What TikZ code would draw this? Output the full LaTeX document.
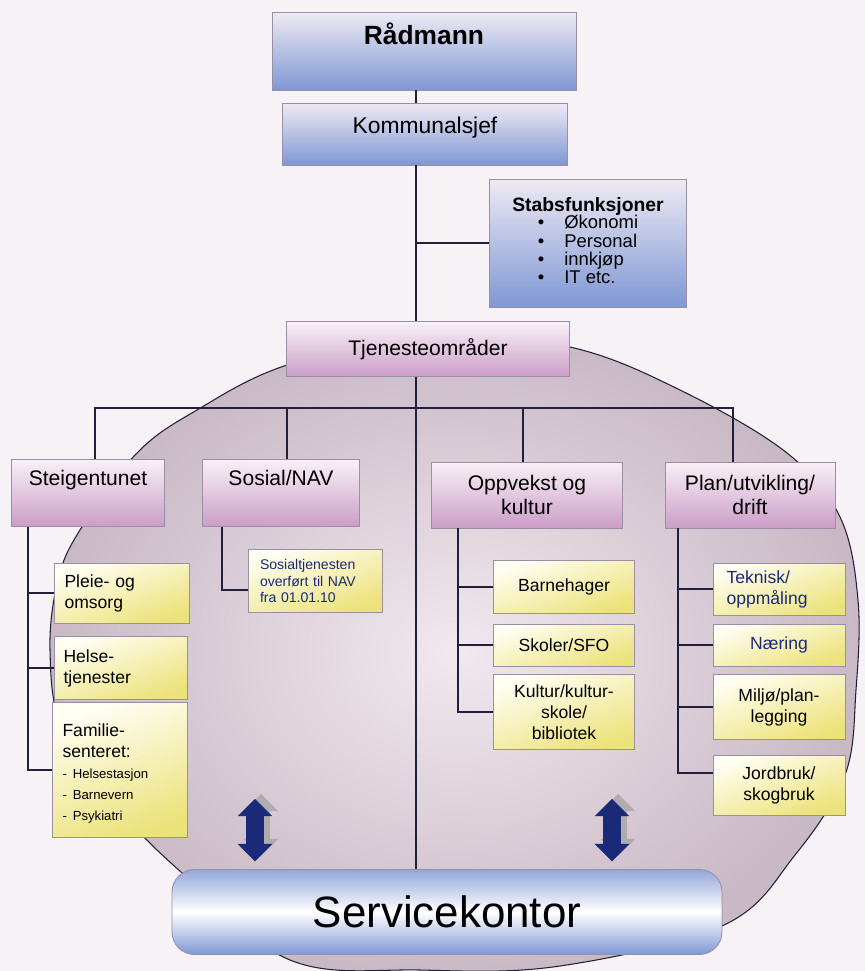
\documentclass[tikz,border=0pt]{standalone}
\usepackage{fontspec}
\setmainfont{Liberation Sans}
\usetikzlibrary{arrows.meta, positioning, calc, shapes.arrows, shadows}
\definecolor{sbg}{HTML}{F7F2F5}
\definecolor{sblue}{HTML}{7F97D3}
\definecolor{sbluetop}{HTML}{EEEAF4}
\definecolor{spink}{HTML}{CB9DC8}
\definecolor{spinktop}{HTML}{F8F1F6}
\definecolor{syellow}{HTML}{ECE27A}
\definecolor{syellowtop}{HTML}{FFFEF3}
\definecolor{snavy}{HTML}{1B2A78}
\definecolor{sline}{HTML}{20203C}
\definecolor{sedge}{HTML}{9A90A6}
\definecolor{sellin}{HTML}{F1E9EF}
\definecolor{sellout}{HTML}{C9B9C5}
\newcommand{\lst}[1]{{\fontsize{7.5}{9}\selectfont #1}}
\tikzset{
  box/.style={draw=sedge, line width=0.5pt, align=center, inner sep=2pt},
  bluebox/.style={box, top color=sbluetop, bottom color=sblue},
  pinkbox/.style={box, top color=spinktop, bottom color=spink},
  yellowbox/.style={box, top color=syellowtop, bottom color=syellow, shading angle=20},
  link/.style={draw=sline, line width=0.8pt},
  toptext/.style={font=\fontsize{15}{17}\selectfont\bfseries},
  headtext/.style={font=\fontsize{13}{15}\selectfont},
  unittext/.style={font=\fontsize{12}{14}\selectfont},
  subtext/.style={font=\fontsize{10}{12}\selectfont},
  notetext/.style={font=\fontsize{8}{9.5}\selectfont, text=snavy},
  dblarrow/.style={double arrow, rotate=90, fill=snavy, inner xsep=0pt, inner ysep=0.17cm,
    minimum height=1.25cm, minimum width=0.68cm, double arrow head extend=0.17cm,
    drop shadow={shadow xshift=0.12cm, shadow yshift=0.1cm, fill=gray!70, opacity=0.8}}
}

\begin{document}
\begin{tikzpicture}[x=0.02cm, y=-0.02cm]
  % frame and backdrop
  \useasboundingbox[fill=sbg] (0,0) rectangle (865,971);
  \path[draw=sline, line width=0.6pt, inner color=sellin, outer color=sellout]
    plot[smooth cycle, tension=0.6] coordinates {
      (430,333) (570,347) (680,390) (787,453) (840,517) (858,600) (856,690)
      (845,775) (795,855) (724,925) (560,966) (420,970) (290,960) (181,872)
      (115,805) (62,730) (50,650) (58,580) (80,530) (137,453) (197,410) (287,365)};

  % top of the chart
  \node[bluebox, toptext, minimum width=6.08cm, minimum height=1.56cm, text depth=0.7cm] (rad) at (424,51) {Rådmann};
  \node[bluebox, headtext, minimum width=5.7cm, minimum height=1.24cm, text depth=0.35cm] (kom) at (425,134) {Kommunalsjef};
  \node[bluebox, minimum width=3.94cm, minimum height=2.56cm] (stab) at (588,243)
    {{\fontsize{11}{13}\selectfont\bfseries Stabsfunksjoner}\\[-1pt]
     {\fontsize{10.5}{10}\selectfont
     \begin{tabular}{@{}l@{\hspace{0.4cm}}l@{}}
       \textbullet & Økonomi\\
       \textbullet & Personal\\
       \textbullet & innkjøp\\
       \textbullet & IT etc.
     \end{tabular}}};
  \node[pinkbox, unittext, minimum width=5.66cm, minimum height=1.1cm] (tjen) at (428,349) {Tjenesteområder};

  % service areas
  \node[pinkbox, unittext, minimum width=3.06cm, minimum height=1.34cm, text depth=0.6cm] (stei) at (88,493) {Steigentunet};
  \node[pinkbox, unittext, minimum width=3.14cm, minimum height=1.34cm, text depth=0.6cm] (sos) at (281,493) {Sosial/NAV};
  \node[pinkbox, unittext, minimum width=3.82cm, minimum height=1.32cm] (opp) at (527,495) {Oppvekst og\\kultur};
  \node[pinkbox, unittext, minimum width=3.4cm, minimum height=1.32cm] (plan) at (750,495) {Plan/utvikling/\\drift};

  % Steigentunet
  \node[yellowbox, subtext, align=left, text width=2.3cm, minimum width=2.7cm, minimum height=1.2cm] (pleie) at (122,593) {Pleie- og\\omsorg};
  \node[yellowbox, subtext, align=left, text width=2.3cm, minimum width=2.66cm, minimum height=1.26cm] (helse) at (121,668) {Helse-\\tjenester};
  \node[yellowbox, subtext, align=left, text width=2.3cm, minimum width=2.7cm, minimum height=2.7cm, text depth=1.6cm] (fam) at (120,770)
    {Familie-\\senteret:\\\lst{- Helsestasjon}\\\lst{- Barnevern}\\\lst{- Psykiatri}};

  % Sosial/NAV
  \node[yellowbox, notetext, align=left, text width=2.2cm, minimum width=2.68cm, minimum height=1.26cm] (sosnote) at (315,581)
    {Sosialtjenesten\\overført til NAV\\fra 01.01.10};

  % Oppvekst og kultur
  \node[yellowbox, subtext, minimum width=2.82cm, minimum height=1.06cm] (barn) at (564,587) {Barnehager};
  \node[yellowbox, subtext, minimum width=2.82cm, minimum height=0.84cm] (skol) at (564,645) {Skoler/SFO};
  \node[yellowbox, subtext, minimum width=2.82cm, minimum height=1.5cm] (kult) at (564,712) {Kultur/kultur-\\skole/\\bibliotek};

  % Plan/utvikling/drift
  \node[yellowbox, subtext, text=snavy, align=left, text width=2.1cm, minimum width=2.64cm, minimum height=1.04cm] (tek) at (779,589) {Teknisk/\\oppmåling};
  \node[yellowbox, subtext, text=snavy, minimum width=2.64cm, minimum height=0.84cm] (naer) at (779,645) {Næring};
  \node[yellowbox, subtext, minimum width=2.64cm, minimum height=1.3cm] (milj) at (779,707) {Miljø/plan-\\legging};
  \node[yellowbox, subtext, minimum width=2.64cm, minimum height=1.2cm] (jord) at (779,785) {Jordbruk/\\skogbruk};

  % bottom
  \node[box, rounded corners=0.45cm, top color=sblue!85, bottom color=sblue, middle color=white,
    font=\fontsize{25}{28}\selectfont, minimum width=11cm, minimum height=1.7cm] (service) at (447,912) {Servicekontor};
  \node[dblarrow] (arrl) at (255,830) {};
  \node[dblarrow] (arrr) at (612,830) {};

  % lines
  \coordinate (spine) at (416,0);
  \coordinate (bar) at (0,408);
  \draw[link] (spine |- rad.south) -- (spine |- kom.north);
  \draw[link] (spine |- kom.south) -- (spine |- tjen.north);
  \draw[link] (spine |- tjen.south) -- (spine |- service.north);
  \draw[link] (spine |- stab.west) -- (stab.west);
  \draw[link] ($(stei.north)+(7,0)$) |- ($(plan.north |- bar)+(-17,0)$) -- ($(plan.north)+(-17,0)$);
  \draw[link] ($(sos.north)+(6,0)$) -- ($(sos.north |- bar)+(6,0)$);
  \draw[link] ($(opp.north)+(-4,0)$) -- ($(opp.north |- bar)+(-4,0)$);

  \coordinate (steix) at (28,0);
  \draw[link] (steix |- stei.south) |- (fam.west);
  \draw[link] (steix |- pleie.west) -- (pleie.west);
  \draw[link] (steix |- helse.west) -- (helse.west);

  \coordinate (sosx) at (222,0);
  \draw[link] (sosx |- sos.south) |- ($(sosnote.west)+(0,9)$);

  \coordinate (oppx) at (458,0);
  \draw[link] (oppx |- opp.south) |- (kult.west);
  \draw[link] (oppx |- barn.west) -- (barn.west);
  \draw[link] (oppx |- skol.west) -- (skol.west);

  \coordinate (planx) at (678,0);
  \draw[link] (planx |- plan.south) |- ($(jord.west)+(0,-12)$);
  \draw[link] (planx |- tek.west) -- (tek.west);
  \draw[link] (planx |- naer.west) -- (naer.west);
  \draw[link] (planx |- milj.west) -- (milj.west);
\end{tikzpicture}
\end{document}
